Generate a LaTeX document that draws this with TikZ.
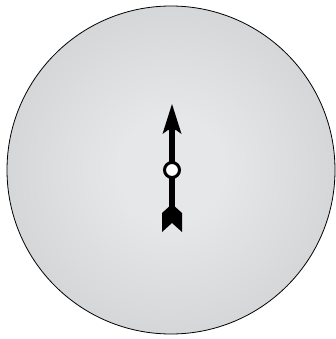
\documentclass[tikz,border=0pt]{standalone}
\usetikzlibrary{shapes.geometric}
\definecolor{dialin}{HTML}{E6E7E8}
\definecolor{dialout}{HTML}{BCBEC0}
\pgfdeclareradialshading{dialshade}{\pgfpoint{0bp}{0bp}}{color(0bp)=(dialin); color(8bp)=(dialin); color(50bp)=(dialout)}
\tikzset{
  dial/.style={draw=black, line width=0.8pt, shading=dialshade},
  needle/.style={fill=black, draw=none},
  hub/.style={circle, draw=black, fill=white, line width=3pt, minimum size=15pt, inner sep=0pt}
}
\begin{document}
\begin{tikzpicture}[x=1pt,y=-1pt]
\useasboundingbox (0,0) rectangle (335,339);
\path[dial] (171,170) circle (164);
% shaft
\fill[needle] (168.6,128) rectangle (175.4,212);
% arrowhead
\fill[needle] (172,104) -- (181.5,134) -- (176,130) -- (168,130) -- (162.5,134) -- cycle;
% tail fletching
\fill[needle] (172,204) -- (182,213) -- (182,232) -- (172,223) -- (162,232) -- (162,213) -- cycle;
% hub
\node[hub] (hub) at (172,170) {};
\end{tikzpicture}
\end{document}
